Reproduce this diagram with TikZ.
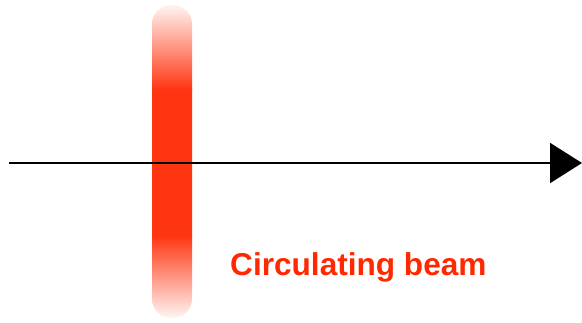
\documentclass[tikz,border=0pt]{standalone}
\usepackage{fontspec}
\setmainfont{Liberation Sans}
\usepackage{xcolor}
\usetikzlibrary{positioning,arrows.meta}
\definecolor{beamred}{RGB}{255,52,16}
\definecolor{labelred}{RGB}{255,40,0}

\begin{document}
\begin{tikzpicture}[x=1pt, y=1pt,
  axis/.style={line width=2pt, -{Triangle[length=32pt, width=40pt]}},
  label/.style={font=\bfseries\fontsize{31.6}{32}\selectfont, text=labelred,
                inner sep=0pt, anchor=base west}]
\useasboundingbox (0,0) rectangle (582,-322);
% beam bunch, faded at both ends
\begin{scope}
\clip[rounded corners=19pt] (152,-5) rectangle (192,-318);
\shade[top color=white, bottom color=beamred] (150,0) rectangle (194,-90);
\fill[beamred] (150,-89) rectangle (194,-236);
\shade[top color=beamred, bottom color=white] (150,-235) rectangle (194,-322);
\end{scope}
\coordinate (axstart) at (9,-163);
\coordinate (axend) at (582,-163);
\draw[axis] (axstart) -- (axend);
\node[label] (beam) at (230,-275) {Circulating beam};
\end{tikzpicture}
\end{document}
